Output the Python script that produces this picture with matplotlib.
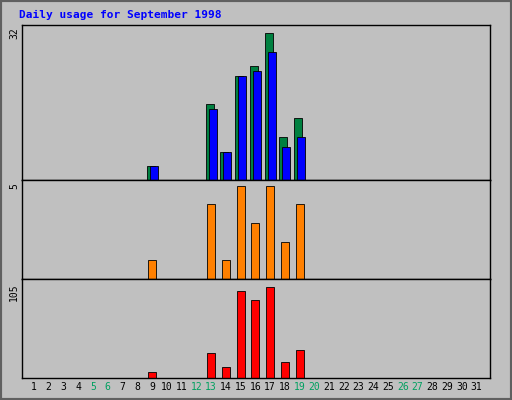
import matplotlib
matplotlib.use("Agg")
import matplotlib.pyplot as plt
from matplotlib.patches import Rectangle

days = list(range(1, 32))
hits = [0]*8 + [3, 0, 0, 0, 16, 6, 22, 24, 31, 9, 13] + [0]*12
files = [0]*8 + [3, 0, 0, 0, 15, 6, 22, 23, 27, 7, 9] + [0]*12
sites = [0]*8 + [1, 0, 0, 0, 4, 1, 5, 3, 5, 2, 4] + [0]*12
kbytes = [0]*8 + [7, 0, 0, 0, 28, 12, 98, 88, 102, 18, 31] + [0]*12
weekends = [5, 6, 12, 13, 19, 20, 26, 27]
scales = ["32", "5", "105"]

W, H = 512, 400
fig = plt.figure(figsize=(5.12, 4.0), dpi=100)
fig.patch.set_facecolor("#C0C0C0")
fig.patches.append(Rectangle((0, 0), 1, 1, transform=fig.transFigure, fill=False,
                             edgecolor="#606060", linewidth=3))
fig.text(19/W, 1-15/H, "Daily usage for September 1998", color="#0000FF",
         family="DejaVu Sans Mono", fontweight="bold", fontsize=8, va="center")

x0, x1 = 22, 490
xl = (1-12/14.75, 1+(x1-34)/14.75)

def mk(top, bot):
    ax = fig.add_axes([x0/W, 1-bot/H, (x1-x0)/W, (bot-top)/H])
    ax.set_facecolor("#C0C0C0")
    ax.set_xlim(*xl)
    ax.set_xticks([]); ax.set_yticks([])
    for s in ax.spines.values():
        s.set_color("black"); s.set_linewidth(1)
    return ax

a1 = mk(25, 180); a2 = mk(180, 279); a3 = mk(279, 378)
bw = 8/14.75
a1.set_ylim(0, 32*1.02)
a1.bar([d-1.5/14.75 for d in days], hits, width=bw, color="#008040", edgecolor="black", linewidth=0.6)
a1.bar([d+1.5/14.75 for d in days], files, width=bw, color="#0000FF", edgecolor="black", linewidth=0.6)
a2.set_ylim(0, 5*1.06)
a2.bar(days, sites, width=bw, color="#FF8000", edgecolor="black", linewidth=0.6)
a3.set_ylim(0, 105*1.06)
a3.bar(days, kbytes, width=bw, color="#FF0000", edgecolor="black", linewidth=0.6)

for top, lab in zip([25, 181, 281], scales):
    fig.text(14/W, 1-(top+2)/H, lab, rotation=90, va="top", ha="center",
             family="DejaVu Sans Mono", fontsize=7)

for d in days:
    xp = 34 + (d-1)*14.75
    fig.text(xp/W, 1-387/H, str(d), ha="center", va="center",
             family="DejaVu Sans Mono", fontsize=7,
             color="#00A060" if d in weekends else "black")

fig.savefig("out.png", dpi=100, facecolor=fig.get_facecolor())
